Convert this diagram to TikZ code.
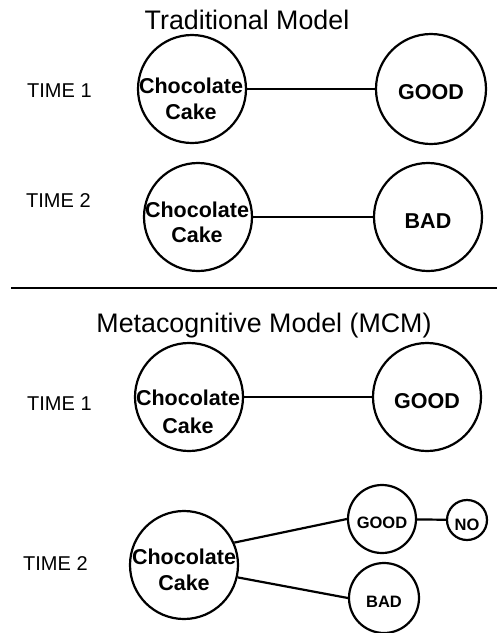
\documentclass[tikz,border=0pt]{standalone}
\usepackage{fontspec}
\setmainfont{Liberation Sans}
\begin{document}
\begin{tikzpicture}[x=1pt,y=-1pt,
  bubble/.style={circle,draw,line width=2.2pt,inner sep=0pt},
  link/.style={line width=2.2pt},
  word/.style={inner sep=0pt,anchor=base,font=\bfseries\fontsize{21.5}{26}\selectfont},
  smallword/.style={inner sep=0pt,anchor=base,font=\bfseries\fontsize{16.5}{19}\selectfont},
  timetag/.style={inner sep=0pt,anchor=base west,font=\fontsize{20}{24}\selectfont},
  heading/.style={inner sep=0pt,anchor=base,font=\fontsize{26.8}{32}\selectfont}]
\useasboundingbox (0,0) rectangle (497,633);

% ---- Traditional model ----
\node[heading] (h1) at (247,29) {Traditional Model};

\node[timetag] (tt1) at (27,97) {TIME 1};
\node[bubble,minimum size=108pt] (c1) at (192,89) {};
\node[bubble,minimum size=110pt] (g1) at (431,89) {};
\draw[link] (c1) -- (g1);
\node[word] (c1a) at (191,93) {Chocolate};
\node[word] (c1b) at (191,119) {Cake};
\node[word] (g1t) at (431,99) {GOOD};

\node[timetag] (tt2) at (26,207) {TIME 2};
\node[bubble,minimum size=108pt] (c2) at (198,217) {};
\node[bubble,minimum size=108pt] (b2) at (428,217) {};
\draw[link] (c2) -- (b2);
\node[word] (c2a) at (197,217) {Chocolate};
\node[word] (c2b) at (197,242) {Cake};
\node[word] (b2t) at (428,228) {BAD};

% ---- separator ----
\coordinate (sepl) at (11,288);
\coordinate (sepr) at (497,288);
\draw[line width=2.8pt] (sepl) -- (sepr);

% ---- Metacognitive model ----
\node[heading] (h2) at (264,332) {Metacognitive Model (MCM)};

\node[timetag] (tt3) at (27,410) {TIME 1};
\node[bubble,minimum size=108pt] (c3) at (189,397) {};
\node[bubble,minimum size=108pt] (g3) at (427,397) {};
\draw[link] (c3) -- (g3);
\node[word] (c3a) at (188,405) {Chocolate};
\node[word] (c3b) at (188,433) {Cake};
\node[word] (g3t) at (427,408) {GOOD};

\node[timetag] (tt4) at (23,570) {TIME 2};
\node[bubble,minimum size=108pt] (c4) at (184,565) {};
\node[bubble,minimum size=68pt] (g4) at (382,519) {};
\node[bubble,minimum size=40pt] (n4) at (467,520) {};
\node[bubble,minimum size=70pt] (b4) at (384,598) {};
\draw[link] (c4.24) -- (g4.west);
\draw[link] (c4.-13) -- (b4.west);
\draw[link] (g4) -- (n4);
\node[word] (c4a) at (184,564) {Chocolate};
\node[word] (c4b) at (184,590) {Cake};
\node[smallword] (g4t) at (382,528) {GOOD};
\node[smallword] (n4t) at (467,530) {NO};
\node[smallword] (b4t) at (384,607) {BAD};
\end{tikzpicture}
\end{document}
